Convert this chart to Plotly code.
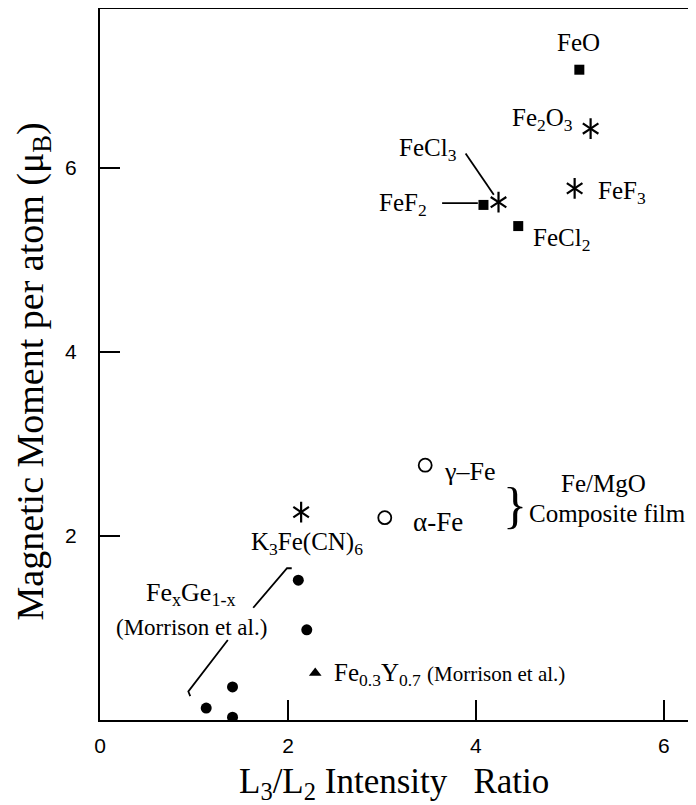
import plotly.graph_objects as go

# ---- data ----
sq_names = ["FeO", "FeF2", "FeCl2"]
sq_x = [5.10, 4.08, 4.45]
sq_y = [7.07, 5.60, 5.37]

ast_names = ["Fe2O3", "FeF3", "FeCl3", "K3Fe(CN)6"]
ast_x = [5.22, 5.05, 4.24, 2.14]
ast_y = [6.43, 5.78, 5.63, 2.26]

film_names = ["gamma-Fe", "alpha-Fe"]
film_x = [3.46, 3.03]
film_y = [2.77, 2.20]

fege_x = [2.11, 2.20, 1.41, 1.13, 1.41]
fege_y = [1.52, 0.98, 0.36, 0.13, 0.03]

fey_x = [2.29]
fey_y = [0.51]

x_ticks = [0, 2, 4, 6]
y_ticks = [2, 4, 6]

x_title = "L<sub>3</sub>/L<sub>2</sub> Intensity&nbsp;&nbsp; Ratio"
y_title = "Magnetic Moment per atom (μ<sub>B</sub>)"

SERIF = "Liberation Serif, Times New Roman, serif"
SANS = "Liberation Sans, Arial, sans-serif"

fig = go.Figure()

fig.add_trace(go.Scatter(x=sq_x, y=sq_y, mode="markers", name="squares",
                         marker=dict(symbol="square", size=10, color="black")))
# six-armed asterisk from two overlaid open Y symbols
for sym in ["y-up-open", "y-down-open"]:
    fig.add_trace(go.Scatter(x=ast_x, y=ast_y, mode="markers", name="asterisk",
                             marker=dict(symbol=sym, size=13, color="black",
                                         line=dict(color="black", width=2.2))))
fig.add_trace(go.Scatter(x=film_x, y=film_y, mode="markers", name="film",
                         marker=dict(symbol="circle-open", size=13, color="black",
                                     line=dict(color="black", width=1.8))))
fig.add_trace(go.Scatter(x=fege_x, y=fege_y, mode="markers", name="FeGe",
                         marker=dict(symbol="circle", size=11, color="black")))
fig.add_trace(go.Scatter(x=fey_x, y=fey_y, mode="markers", name="FeY",
                         marker=dict(symbol="triangle-up", size=11, color="black")))

labels = [
    ("FeO", 5.09, 7.37, 25, "center"),
    ("Fe<sub>2</sub>O<sub>3</sub>", 4.71, 6.53, 25, "center"),
    ("FeCl<sub>3</sub>", 3.49, 6.20, 25, "center"),
    ("FeF<sub>2</sub>", 3.22, 5.60, 25, "center"),
    ("FeF<sub>3</sub>", 5.55, 5.74, 25, "center"),
    ("FeCl<sub>2</sub>", 4.91, 5.22, 25, "center"),
    ("γ–Fe", 3.94, 2.70, 26, "center"),
    ("α-Fe", 3.60, 2.15, 27, "center"),
    ("Fe/MgO", 5.36, 2.57, 25, "center"),
    ("Composite film", 5.40, 2.25, 25, "center"),
    ("K<sub>3</sub>Fe(CN)<sub>6</sub>", 2.20, 1.92, 25, "center"),
    ("Fe<sub>x</sub>Ge<sub>1-x</sub>", 0.97, 1.37, 26, "center"),
    ("(Morrison et al.)", 0.97, 1.01, 23, "center"),
    ("Fe<sub>0.3</sub>Y<sub>0.7</sub> <span style='font-size:21px'>(Morrison et al.)</span>",
     2.47, 0.50, 25, "left"),
]
for txt, x, y, sz, anc in labels:
    fig.add_annotation(x=x, y=y, xref="x", yref="y", text=txt, showarrow=False,
                       xanchor=anc, yanchor="middle",
                       font=dict(family=SERIF, size=sz, color="black"))

fig.add_annotation(x=4.42, y=2.34, xref="x", yref="y", text="}", showarrow=False,
                   xanchor="center", yanchor="middle",
                   font=dict(family=SERIF, size=50, color="black"))

# axis titles
fig.add_annotation(x=0.495, y=-0.089, xref="paper", yref="paper", text=x_title,
                   showarrow=False, xanchor="center", yanchor="middle",
                   font=dict(family=SERIF, size=35, color="black"))
fig.add_annotation(x=-0.113, y=0.49, xref="paper", yref="paper", text=y_title,
                   showarrow=False, xanchor="center", yanchor="middle", textangle=-90,
                   font=dict(family=SERIF, size=38, color="black"))

# leader lines
line_style = dict(color="black", width=1.8)
fig.add_shape(type="line", xref="x", yref="y", x0=3.89, y0=6.16, x1=4.19, y1=5.71, line=line_style)
fig.add_shape(type="line", xref="x", yref="y", x0=3.64, y0=5.62, x1=4.02, y1=5.62, line=line_style)
fig.add_shape(type="path", xref="x", yref="y",
              path="M 1.63 1.22 L 1.99 1.65 L 2.04 1.65", line=line_style)
fig.add_shape(type="path", xref="x", yref="y",
              path="M 1.36 0.87 L 0.94 0.31 L 0.96 0.26", line=line_style)

fig.update_xaxes(range=[0, 6.32], tickvals=x_ticks, ticktext=[str(v) for v in x_ticks],
                 ticks="inside", ticklen=20, tickwidth=2, tickcolor="black",
                 showline=True, linewidth=2, linecolor="black", mirror=True,
                 showgrid=False, zeroline=False,
                 tickfont=dict(family=SANS, size=21, color="black"),
                 ticklabelstandoff=6)
fig.update_yaxes(range=[0, 7.73], tickvals=y_ticks, ticktext=[str(v) for v in y_ticks],
                 ticks="inside", ticklen=20, tickwidth=2, tickcolor="black",
                 showline=True, linewidth=2, linecolor="black", mirror=True,
                 showgrid=False, zeroline=False,
                 tickfont=dict(family=SANS, size=21, color="black"),
                 ticklabelstandoff=17)

# the page body adds an 8px margin; size the figure so the frame lands where the reference has it
fig.update_layout(width=688, height=797, showlegend=False,
                  margin=dict(l=92, r=2, t=1, b=85, autoexpand=False),
                  paper_bgcolor="white", plot_bgcolor="white")

fig.write_html("out.html")
